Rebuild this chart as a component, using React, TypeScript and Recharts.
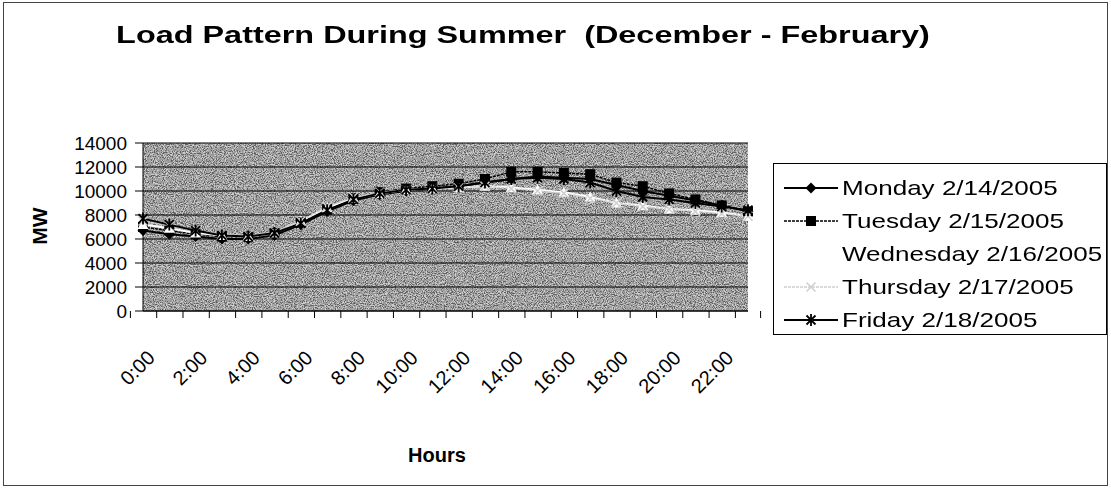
import React from 'react'
import { LineChart, Line, XAxis, YAxis, CartesianGrid } from 'recharts'

// hourly load readings, MW
const hours = [
  '0:00', '1:00', '2:00', '3:00', '4:00', '5:00', '6:00', '7:00',
  '8:00', '9:00', '10:00', '11:00', '12:00', '13:00', '14:00', '15:00',
  '16:00', '17:00', '18:00', '19:00', '20:00', '21:00', '22:00', '23:00',
]
const monday = [6700, 6400, 6200, 6000, 6000, 6300, 7200, 8300, 9200, 9700, 10000, 10200, 10400, 10700, 11000, 11200, 11100, 11000, 10500, 10000, 9600, 9200, 8800, 8300]
const tuesday = [7000, 6700, 6400, 6200, 6200, 6500, 7400, 8500, 9400, 9900, 10200, 10400, 10600, 11000, 11600, 11600, 11500, 11400, 10700, 10400, 9800, 9300, 8800, 8300]
const wednesday = [7200, 6900, 6500, 6300, 6200, 6500, 7500, 8600, 9400, 9800, 10100, 10200, 10300, 10400, 10300, 10100, 9900, 9500, 9000, 8800, 8500, 8400, 8200, 7900]
const thursday = [7500, 7100, 6700, 6400, 6300, 6600, 7500, 8700, 9500, 9900, 10100, 10200, 10300, 10400, 10200, 10000, 9800, 9400, 9000, 8700, 8500, 8300, 8100, 7900]
const friday = [7700, 7200, 6700, 6300, 6200, 6500, 7300, 8400, 9300, 9800, 10100, 10200, 10400, 10700, 11000, 11100, 11000, 10700, 10000, 9500, 9300, 9000, 8700, 8400]
const yTicks = [0, 2000, 4000, 6000, 8000, 10000, 12000, 14000]

type Marker = 'diamond' | 'square' | 'triangle' | 'cross' | 'star'

const series: { key: string; name: string; color: string; dash?: string; marker: Marker }[] = [
  { key: 'mon', name: 'Monday 2/14/2005', color: '#000000', marker: 'diamond' },
  { key: 'tue', name: 'Tuesday 2/15/2005', color: '#000000', dash: '3 1', marker: 'square' },
  { key: 'wed', name: 'Wednesday 2/16/2005', color: '#ffffff', marker: 'triangle' },
  { key: 'thu', name: 'Thursday 2/17/2005', color: '#cfcfcf', dash: '3 1', marker: 'cross' },
  { key: 'fri', name: 'Friday 2/18/2005', color: '#000000', marker: 'star' },
]

const data = hours.map((hour, i) => ({
  hour,
  mon: monday[i],
  tue: tuesday[i],
  wed: wednesday[i],
  thu: thursday[i],
  fri: friday[i],
}))

const W = 1111
const H = 488
const PLOT_LEFT = 143
const PLOT_RIGHT = 748
const PLOT_TOP = 143
const PLOT_BOTTOM = 311
const Y_AXIS_W = 70
const X_AXIS_H = 100
const BAND = (PLOT_RIGHT - PLOT_LEFT) / hours.length
const FONT = '"Liberation Sans", Arial, sans-serif'

function markerShape(kind: Marker, cx: number, cy: number, color: string, key?: string | number) {
  const r = 5.5
  switch (kind) {
    case 'diamond':
      return <path key={key} d={`M${cx},${cy - r}L${cx + r},${cy}L${cx},${cy + r}L${cx - r},${cy}Z`} fill={color} />
    case 'square':
      return <rect key={key} x={cx - 5} y={cy - 5} width={10} height={10} fill={color} />
    case 'triangle':
      return <path key={key} d={`M${cx},${cy - r}L${cx + r},${cy + 4.5}L${cx - r},${cy + 4.5}Z`} fill={color} />
    case 'cross':
      return (
        <path key={key} d={`M${cx - 4.5},${cy - 4.5}L${cx + 4.5},${cy + 4.5}M${cx - 4.5},${cy + 4.5}L${cx + 4.5},${cy - 4.5}`}
          stroke={color} strokeWidth={1.5} fill="none" />
      )
    case 'star':
      return (
        <path key={key}
          d={`M${cx - 4.5},${cy - 4.5}L${cx + 4.5},${cy + 4.5}M${cx - 4.5},${cy + 4.5}L${cx + 4.5},${cy - 4.5}M${cx},${cy - 6}L${cx},${cy + 6}`}
          stroke={color} strokeWidth={1.8} fill="none" />
      )
  }
}

const HourTick = (props: any) => {
  const { x, index, payload } = props
  const left = x - BAND / 2
  const y = PLOT_BOTTOM
  const ax = x + 13
  const ay = y + 48
  return (
    <g>
      <line x1={left} x2={left} y1={y} y2={y + 7} stroke="#000" />
      {index === hours.length - 1 && <line x1={x + BAND / 2} x2={x + BAND / 2} y1={y} y2={y + 7} stroke="#000" />}
      {index % 2 === 0 && (
        <text x={ax} y={ay} transform={`rotate(-45 ${ax} ${ay})`} textAnchor="end"
          fontSize={20} fontFamily={FONT} fill="#000">
          {payload.value}
        </text>
      )}
    </g>
  )
}

function ChartLegend() {
  return (
    <div style={{
      position: 'absolute', left: 773, top: 163, width: 334, height: 172, boxSizing: 'border-box',
      border: '1px solid #000', background: '#fff',
    }}>
      {series.map((s, i) => (
        <div key={s.key} style={{ position: 'absolute', left: 0, top: 9 + i * 33, height: 30, display: 'flex', alignItems: 'center' }}>
          <svg width={68} height={30}>
            <line x1={10} x2={64} y1={15} y2={15} stroke={s.color} strokeWidth={s.dash ? 1.5 : 2} strokeDasharray={s.dash} />
            {markerShape(s.marker, 37, 15, s.color)}
          </svg>
          <span style={{ fontFamily: FONT, fontSize: 21, color: '#000', whiteSpace: 'nowrap', display: 'inline-block', transform: 'scaleX(1.24)', transformOrigin: 'left center' }}>
            {s.name}
          </span>
        </div>
      ))}
    </div>
  )
}

// speckled grey fill behind the plot area
function PlotBackground() {
  const w = PLOT_RIGHT - PLOT_LEFT
  const h = PLOT_BOTTOM - PLOT_TOP
  return (
    <svg width={W} height={H} style={{ position: 'absolute', left: 0, top: 0 }}>
      <defs>
        <filter id="grain" x={PLOT_LEFT} y={PLOT_TOP} width={w} height={h} filterUnits="userSpaceOnUse">
          <feTurbulence type="fractalNoise" baseFrequency="0.9" numOctaves={2} seed={7} />
          <feColorMatrix type="matrix"
            values="3 0 0 0 -1  3 0 0 0 -1  3 0 0 0 -1  0 0 0 0 1" />
          <feComponentTransfer>
            <feFuncR type="discrete" tableValues="0.1 0.35 0.46 0.58 0.95" />
            <feFuncG type="discrete" tableValues="0.1 0.35 0.46 0.58 0.95" />
            <feFuncB type="discrete" tableValues="0.1 0.35 0.46 0.58 0.95" />
          </feComponentTransfer>
        </filter>
      </defs>
      <rect x={PLOT_LEFT} y={PLOT_TOP} width={w} height={h} fill="#7a7a7a" />
      <rect x={PLOT_LEFT} y={PLOT_TOP} width={w} height={h} filter="url(#grain)" opacity={0.65} />
    </svg>
  )
}

export default function App() {
  return (
    <div style={{ position: 'relative', width: W, height: H, background: '#fff', fontFamily: FONT }}>
      <style>{'body{margin:0}'}</style>
      <div style={{ position: 'absolute', left: 3, top: 2, width: W - 6, height: H - 4, border: '1px solid #444', boxSizing: 'border-box' }} />
      <div style={{
        position: 'absolute', left: 0, width: 1046, top: 21, textAlign: 'center',
        fontSize: 24, fontWeight: 'bold', whiteSpace: 'pre', transform: 'scaleX(1.35)', transformOrigin: '523px 0',
      }}>
        {'Load Pattern During Summer  (December - February)'}
      </div>
      <div style={{
        position: 'absolute', left: 40, top: 226, transform: 'translate(-50%, -50%) rotate(-90deg)',
        fontSize: 21, fontWeight: 'bold',
      }}>MW</div>
      <div style={{ position: 'absolute', left: 437, top: 455, transform: 'translate(-50%, -50%)', fontSize: 20, fontWeight: 'bold' }}>
        Hours
      </div>
      <PlotBackground />
      <LineChart
        width={W}
        height={H}
        data={data}
        margin={{ top: PLOT_TOP, right: W - PLOT_RIGHT, bottom: H - PLOT_BOTTOM - X_AXIS_H, left: PLOT_LEFT - Y_AXIS_W }}
        style={{ position: 'absolute', left: 0, top: 0 }}
      >
        <CartesianGrid vertical={false} stroke="#000" />
        <XAxis dataKey="hour" interval={0} height={X_AXIS_H} axisLine={{ stroke: '#000' }} tickLine={false} tick={<HourTick />} />
        <YAxis
          width={Y_AXIS_W}
          domain={[0, 14000]}
          ticks={yTicks}
          interval={0}
          axisLine={{ stroke: '#000' }}
          tickLine={{ stroke: '#000' }}
          tickSize={8}
          tickMargin={8}
          tick={{ fill: '#000', fontSize: 19, fontFamily: FONT }}
        />
        {series.map(s => (
          <Line
            key={s.key}
            dataKey={s.key}
            name={s.name}
            stroke={s.color}
            strokeWidth={s.dash ? 1.5 : 2}
            strokeDasharray={s.dash}
            isAnimationActive={false}
            dot={(p: any) => markerShape(s.marker, p.cx, p.cy, s.color, `${s.key}-${p.index}`)}
            activeDot={false}
          />
        ))}
      </LineChart>
      <ChartLegend />
    </div>
  )
}
